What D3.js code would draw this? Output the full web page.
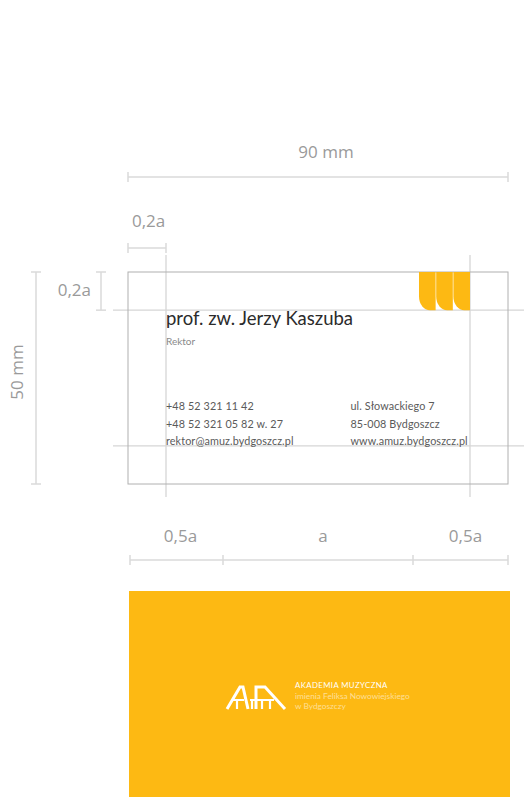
<!DOCTYPE html>
<html><head><meta charset="utf-8">
<script src="https://cdn.jsdelivr.net/npm/d3@7"></script>
<style>
html,body{margin:0;padding:0;background:#fff;}
svg{display:block;}
</style></head>
<body>
<svg id="c" width="524" height="797"></svg>
<script>
// ---- data (millimetres / text) ----
const cardWidthMM = 90;
const cardHeightMM = 50;
const unitA = 45;                       // "a" in mm
const marginFactor = 0.2;               // 0.2a
const bottomSegments = [0.5, 1, 0.5];   // in units of a
const bottomLabels = ["0,5a", "a", "0,5a"];
const widthLabel = "90 mm";
const heightLabel = "50 mm";
const marginLabel = "0,2a";
const tabCount = 3;
const personName = "prof. zw. Jerzy Kaszuba";
const personTitle = "Rektor";
const contactLeft = ["+48 52 321 11 42", "+48 52 321 05 82 w. 27", "rektor@amuz.bydgoszcz.pl"];
const contactRight = ["ul. Słowackiego 7", "85-008 Bydgoszcz", "www.amuz.bydgoszcz.pl"];
const logoLines = ["AKADEMIA MUZYCZNA", "imienia Feliksa Nowowiejskiego", "w Bydgoszczy"];

// ---- scales ----
const x = d3.scaleLinear().domain([0, cardWidthMM]).range([128, 508]);
const y = d3.scaleLinear().domain([0, cardHeightMM]).range([272, 484]);
const m = marginFactor * unitA;

const svg = d3.select("#c");
const dimColor = "#dadada", labelColor = "#9a9a9a", guideColor = "#d6d6d6";
const orange = "#fdb913";

// guide lines
const gv = svg.append("g");
[m, cardWidthMM - m].forEach(v => {
  gv.append("line").attr("x1", x(v)).attr("x2", x(v)).attr("y1", 255).attr("y2", 497)
    .attr("stroke", guideColor).attr("stroke-width", 1.3);
});
[m, cardHeightMM - m].forEach(v => {
  gv.append("line").attr("x1", 113).attr("x2", 524).attr("y1", y(v)).attr("y2", y(v))
    .attr("stroke", guideColor).attr("stroke-width", 1.3);
});

// card outline
svg.append("rect").attr("x", x(0)).attr("y", y(0))
  .attr("width", x(cardWidthMM) - x(0)).attr("height", y(cardHeightMM) - y(0))
  .attr("fill", "none").attr("stroke", "#b0b0b0").attr("stroke-width", 1);

function hDim(x1, x2, yy, ticks) {
  const g = svg.append("g").attr("stroke", dimColor).attr("stroke-width", 1.5);
  g.append("line").attr("x1", x1).attr("x2", x2).attr("y1", yy).attr("y2", yy);
  ticks.forEach(t => g.append("line").attr("x1", t).attr("x2", t).attr("y1", yy - 5).attr("y2", yy + 5));
}
function vDim(xx, y1, y2) {
  const g = svg.append("g").attr("stroke", dimColor).attr("stroke-width", 1.5);
  g.append("line").attr("x1", xx).attr("x2", xx).attr("y1", y1).attr("y2", y2);
  [y1, y2].forEach(t => g.append("line").attr("x1", xx - 5).attr("x2", xx + 5).attr("y1", t).attr("y2", t));
}
function label(t, xx, yy, anchor, rot) {
  const el = svg.append("text").attr("x", xx).attr("y", yy).text(t)
    .attr("font-family", "'Open Sans', sans-serif").attr("font-size", 17)
    .attr("fill", labelColor).attr("text-anchor", anchor || "middle");
  if (rot) el.attr("transform", `rotate(${rot},${xx},${yy})`);
  return el;
}

// 90 mm
hDim(x(0), x(cardWidthMM), 177, [x(0), x(cardWidthMM)]);
label(widthLabel, (x(0) + x(cardWidthMM)) / 2 + 8, 158);
// 0,2a top
hDim(x(0), x(m), 248, [x(0), x(m)]);
label(marginLabel, x(0) + 4, 227, "start");
// 50 mm
vDim(36, y(0), y(cardHeightMM));
label(heightLabel, 23, 372, "middle", -90);
// 0,2a left
vDim(101, y(0), y(m));
label(marginLabel, 91, 296, "end");

// bottom segments
let acc = 0;
const bTicks = [x(0) + 2];
const segCenters = [];
bottomSegments.forEach(s => {
  const a0 = acc; acc += s * unitA;
  bTicks.push(x(acc));
  segCenters.push((x(a0) + x(acc)) / 2);
});
hDim(x(0) + 2, x(cardWidthMM), 560, bTicks);
bottomLabels.forEach((t, i) => label(t, segCenters[i] + 5, 542));

// tabs (top right)
const tabW = 17.2;
const tabG = svg.append("g");
for (let i = 0; i < tabCount; i++) {
  const right = x(cardWidthMM - m) - i * tabW;
  const left = right - tabW + 0.6;
  const top = y(0), bot = y(m);
  const r = 11;
  tabG.append("path")
    .attr("d", `M${left},${top} H${right} V${bot} H${left + r} A${r},${r * 1.25} 0 0 1 ${left},${bot - r * 1.25} Z`)
    .attr("fill", orange);
}

// name / title
svg.append("text").attr("x", x(m)).attr("y", 325).text(personName)
  .attr("font-family", "Lato, sans-serif").attr("font-size", 18.5).attr("fill", "#2b2b2b");
svg.append("text").attr("x", x(m)).attr("y", 345).text(personTitle)
  .attr("font-family", "Lato, sans-serif").attr("font-size", 10).attr("fill", "#8a8a8a");

// contact
const rowY = d3.scalePoint().domain(d3.range(contactLeft.length)).range([410, 445]);
const colX = [x(m), 350.5];
[contactLeft, contactRight].forEach((col, ci) => {
  svg.append("g").selectAll("text").data(col).join("text")
    .attr("x", colX[ci]).attr("y", (d, i) => rowY(i)).text(d => d)
    .attr("font-family", "Lato, sans-serif").attr("font-size", 10.8).attr("letter-spacing", 0.1)
    .attr("fill", "#5a5a5a");
});

// back side of card
svg.append("rect").attr("x", x(0) + 1).attr("y", 591)
  .attr("width", x(cardWidthMM) - x(0) + 1).attr("height", 210).attr("fill", orange);

// logo mark
const logo = svg.append("g").attr("stroke", "#fff").attr("stroke-width", 3).attr("fill", "none")
  .attr("stroke-linecap", "butt").attr("stroke-linejoin", "miter");
logo.append("path").attr("d", "M227,709 L240,687 L243,687 L248,709");
logo.append("path").attr("d", "M256,709 L256,687 L265,687 L285,709");
logo.append("path").attr("d", "M233,700 L244,700 M250,700 L274,700").attr("stroke-width", 2.2);
[237, 252, 262, 270].forEach(k => logo.append("line").attr("x1", k).attr("x2", k).attr("y1", 700).attr("y2", 709).attr("stroke-width", 2.2));

svg.append("g").selectAll("text").data(logoLines).join("text")
  .attr("x", 295).attr("y", (d, i) => 688 + i * 10.5).text(d => d)
  .attr("font-family", "Lato, sans-serif").attr("font-size", (d, i) => i === 0 ? 7.8 : 8.3)
  .attr("letter-spacing", (d, i) => i === 0 ? 0.4 : 0)
  .attr("fill", "#fff").attr("fill-opacity", (d, i) => i === 0 ? 1 : 0.55);
</script>
</body></html>
